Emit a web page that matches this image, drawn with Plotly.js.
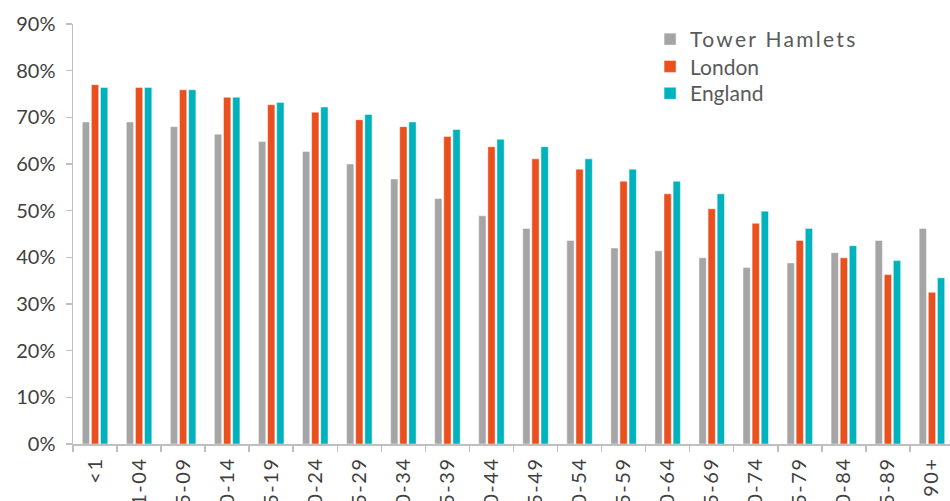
<!DOCTYPE html>
<html>
<head>
<meta charset="utf-8">
<script src="https://cdn.plot.ly/plotly-3.0.1.min.js"></script>
<style>
html,body{margin:0;padding:0;background:#fff;}
#chart{width:950px;height:501px;}
.legendtext{letter-spacing:2.3px;}
.xtick text{letter-spacing:1.5px;}
</style>
</head>
<body>
<div id="chart"></div>
<script>
const categories = ["<1","1-04","5-09","10-14","15-19","20-24","25-29","30-34","35-39","40-44","45-49","50-54","55-59","60-64","65-69","70-74","75-79","80-84","85-89","90+"];
const towerHamlets = [69.0,69.0,68.0,66.4,64.8,62.7,60.0,56.8,52.6,48.9,46.2,43.6,42.0,41.4,39.9,37.8,38.8,41.0,43.6,46.2];
const london = [77.0,76.4,75.9,74.3,72.7,71.1,69.5,68.0,65.9,63.7,61.1,58.9,56.3,53.6,50.4,47.3,43.6,39.9,36.3,32.5];
const england = [76.4,76.4,75.9,74.3,73.2,72.2,70.6,69.0,67.4,65.3,63.7,61.1,58.9,56.3,53.6,49.9,46.2,42.5,39.3,35.6];
const seriesNames = ["Tower Hamlets","London","England"];
const seriesColors = ["#A5A5A5","#E9501E","#00B2BC"];
const legendIds = ["legend","legend2","legend3"];

const FONT = "Lato, 'Open Sans', sans-serif";
const traces = [towerHamlets, london, england].map((vals, i) => ({
  type: "bar",
  name: seriesNames[i],
  legend: legendIds[i],
  x: categories,
  y: vals,
  marker: {color: seriesColors[i], line: {width: 1, color: "rgba(255,255,255,0.45)"}},
  hoverinfo: "none"
}));

const legendBase = {
  x: 0.658, xanchor: "left", yanchor: "top",
  bgcolor: "rgba(0,0,0,0)",
  font: {family: FONT, size: 21, color: "#595959"},
  itemwidth: 30
};

const layout = {
  width: 950, height: 501,
  margin: {l: 73, r: 0, t: 24, b: 57, pad: 0},
  paper_bgcolor: "#fff", plot_bgcolor: "#fff",
  barmode: "group",
  bargap: 0.38,
  bargroupgap: 0.2,
  font: {family: FONT, color: "#404040", size: 20},
  showlegend: true,
  legend: Object.assign({}, legendBase, {y: 1.012}),
  legend2: Object.assign({}, legendBase, {y: 0.947}),
  legend3: Object.assign({}, legendBase, {y: 0.883}),
  xaxis: {
    type: "category",
    range: [-0.5, 19.41],
    showline: true, linecolor: "#BFBFBF", linewidth: 1.5,
    ticks: "outside", ticklen: 6, tickcolor: "#BFBFBF", tickwidth: 1.5,
    tickson: "boundaries",
    tickangle: -90,
    tickfont: {family: FONT, size: 20, color: "#404040"},
    ticklabelstandoff: 4,
    showgrid: false, zeroline: false, automargin: false, fixedrange: true
  },
  yaxis: {
    range: [0, 90], dtick: 10, tick0: 0,
    ticksuffix: "%",
    showline: true, linecolor: "#BFBFBF", linewidth: 1.5,
    ticks: "outside", ticklen: 6, tickcolor: "#BFBFBF", tickwidth: 1.5,
    tickfont: {family: FONT, size: 20, color: "#404040"},
    ticklabelstandoff: 6,
    showgrid: false, zeroline: false, automargin: false, fixedrange: true
  }
};

Plotly.newPlot("chart", traces, layout, {staticPlot: true, displayModeBar: false});
</script>
</body>
</html>
